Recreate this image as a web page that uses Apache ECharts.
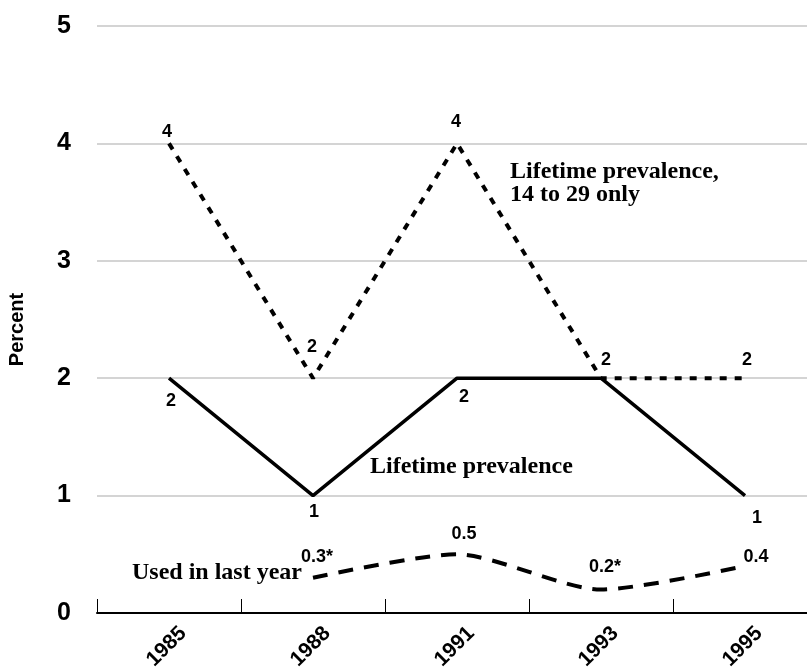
<!DOCTYPE html>
<html>
<head>
<meta charset="utf-8">
<script src="https://cdn.jsdelivr.net/npm/echarts@6/dist/echarts.min.js"></script>
<style>
  html, body { margin: 0; padding: 0; background: #fff; }
  #chart { width: 807px; height: 671px; }
</style>
</head>
<body>
<div id="chart"></div>
<script>
// Survey years and y-axis ticks
const years = ['1985', '1988', '1991', '1993', '1995'];
const yTicks = [0, 1, 2, 3, 4, 5];

// Percent values per series
const lifetime = [2, 1, 2, 2, 1];
const lifetime14to29 = [4, 2, 4, 2, 2];
const usedLastYear = [null, 0.3, 0.5, 0.2, 0.4];
// Values flagged with an asterisk
const usedFlag = [false, true, false, true, false];
// Which points of the lifetime line carry a value label
const lifetimeLabelShown = [true, true, true, false, true];

// Label offsets (px from the point to the label centre)
const lifetimeOffsets = [[2, 23], [1, 16], [7, 19], [0, 0], [12, 22]];
const youngOffsets = [[-2, -11], [-1, -31], [-1, -21], [5, -18], [2, -18]];
const usedOffsets = [[0, 0], [4, -21], [7, -20], [4, -22], [11, -9]];

const SANS = '"Liberation Sans", Arial, sans-serif';
const SERIF = '"Liberation Serif", "Times New Roman", serif';

const labelBase = {
  show: true,
  color: '#000',
  fontFamily: SANS,
  fontWeight: 'bold',
  fontSize: 18,
  align: 'center',
  verticalAlign: 'middle'
};

function pointData(values, offsets, shown, fmt) {
  return values.map((v, i) => {
    if (v === null) return null;
    const show = shown ? shown[i] : true;
    return {
      value: v,
      label: Object.assign({}, labelBase, {
        show: show,
        position: offsets[i],
        formatter: fmt ? fmt(v, i) : String(v)
      })
    };
  });
}

const chart = echarts.init(document.getElementById('chart'), null, { renderer: 'canvas' });

chart.setOption({
  animation: false,
  backgroundColor: '#fff',
  // plot area runs on past the right edge of the canvas
  grid: {
    left: 97, width: 720, top: 26, bottom: 58,
    containLabel: false,
    outerBoundsMode: 'none'
  },
  xAxis: {
    type: 'category',
    data: years,
    boundaryGap: true,
    axisLine: { show: true, lineStyle: { color: '#000', width: 2 } },
    axisTick: { show: true, inside: true, length: 14, lineStyle: { color: '#000', width: 1 } },
    axisLabel: {
      rotate: 45,
      margin: 3,
      align: 'right',
      verticalAlign: 'top',
      lineHeight: 40,
      color: '#000',
      fontFamily: SANS,
      fontWeight: 'bold',
      fontSize: 21
    },
    splitLine: { show: false }
  },
  yAxis: {
    type: 'value',
    min: yTicks[0],
    max: yTicks[yTicks.length - 1],
    interval: 1,
    axisLine: { show: false },
    axisTick: { show: false },
    axisLabel: {
      margin: 26,
      color: '#000',
      fontFamily: SANS,
      fontWeight: 'bold',
      fontSize: 25
    },
    splitLine: { show: true, lineStyle: { color: '#c6c6c6', width: 1.5 } }
  },
  series: [
    {
      name: 'Lifetime prevalence',
      type: 'line',
      data: pointData(lifetime, lifetimeOffsets, lifetimeLabelShown),
      symbol: 'circle',
      symbolSize: 0,
      lineStyle: { color: '#000', width: 3.5, type: 'solid' },
      z: 3
    },
    {
      name: 'Lifetime prevalence, 14 to 29 only',
      type: 'line',
      data: pointData(lifetime14to29, youngOffsets),
      symbol: 'circle',
      symbolSize: 0,
      lineStyle: { color: '#000', width: 4, type: [7, 8], cap: 'butt' },
      z: 4
    },
    {
      name: 'Used in last year',
      type: 'line',
      data: pointData(usedLastYear, usedOffsets, null, (v, i) => v + (usedFlag[i] ? '*' : '')),
      connectNulls: false,
      smooth: 0.25,
      symbol: 'circle',
      symbolSize: 0,
      lineStyle: { color: '#000', width: 4, type: [15, 11], cap: 'butt' },
      z: 3
    }
  ],
  graphic: [
    {
      type: 'text',
      x: 17.5, y: 329.5,
      rotation: Math.PI / 2,
      style: {
        text: 'Percent', x: 0, y: 0,
        font: 'bold 20px ' + SANS, fill: '#000',
        align: 'center', verticalAlign: 'middle'
      }
    },
    {
      type: 'text',
      style: {
        text: 'Lifetime prevalence,', x: 510, y: 172,
        font: 'bold 24px ' + SERIF, fill: '#000',
        align: 'left', verticalAlign: 'middle'
      }
    },
    {
      type: 'text',
      style: {
        text: '14 to 29 only', x: 510, y: 195,
        font: 'bold 24px ' + SERIF, fill: '#000',
        align: 'left', verticalAlign: 'middle'
      }
    },
    {
      type: 'text',
      style: {
        text: 'Lifetime prevalence', x: 370, y: 467,
        font: 'bold 24px ' + SERIF, fill: '#000',
        align: 'left', verticalAlign: 'middle'
      }
    },
    {
      type: 'text',
      style: {
        text: 'Used in last year', x: 132, y: 573,
        font: 'bold 24px ' + SERIF, fill: '#000',
        align: 'left', verticalAlign: 'middle'
      }
    }
  ]
});
</script>
</body>
</html>
